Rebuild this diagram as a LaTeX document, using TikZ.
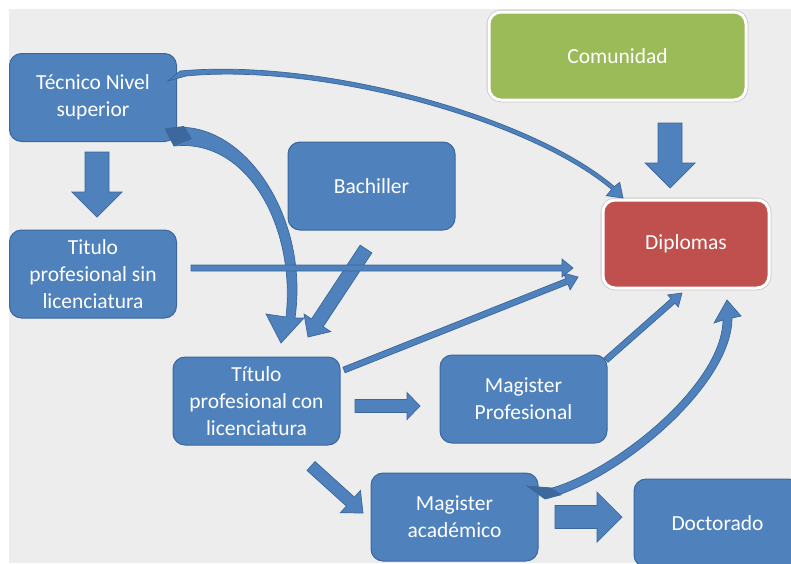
\documentclass[tikz,border=0pt]{standalone}
\usepackage{fontspec}
\setmainfont{Carlito}
\usetikzlibrary{calc}
\definecolor{blu}{HTML}{4F81BD}
\definecolor{bdr}{HTML}{3B679A}
\definecolor{dblu}{HTML}{3C689E}
\definecolor{grn}{HTML}{9BBB59}
\definecolor{redb}{HTML}{C0504D}
\definecolor{bg}{HTML}{EDEDED}
\tikzset{
  box/.style={rounded corners=12pt, fill=blu, draw=bdr, line width=1pt, text=white,
    minimum width=167pt, minimum height=88pt, align=center, inner sep=0pt,
    font=\fontsize{21.5}{27}\selectfont},
  wbox/.style={box, draw=white, line width=3pt, preaction={draw=black!22, line width=4.6pt}},
  arr/.style={fill=blu, draw=bdr, line width=0.7pt, line join=miter},
}
\newcommand\blockarr[5]{%
  \coordinate (hb) at ($(#2)!#5pt!(#1)$);
  \filldraw[arr] ($(#1)!#3pt!90:(#2)$) -- ($(hb)!#3pt!90:(#2)$) -- ($(hb)!#4pt!90:(#2)$)
    -- (#2) -- ($(hb)!#4pt!-90:(#2)$) -- ($(hb)!#3pt!-90:(#2)$) -- ($(#1)!#3pt!-90:(#2)$) -- cycle;
}
\begin{document}
\begin{tikzpicture}[x=1pt,y=-1pt]
\clip (0,0) rectangle (791,563);
\fill[white] (0,0) rectangle (791,563);
\fill[bg] (9,9) rectangle (791,563);

% nodes
\node[box] (tec) at (93,97.5) {Técnico Nivel\\superior};
\node[box] (tsin) at (93,274) {Titulo\\profesional sin\\licenciatura};
\node[box] (bach) at (371.5,186) {Bachiller};
\node[wbox, fill=grn, minimum width=257pt] (com) at (617.5,56) {Comunidad};
\node[wbox, fill=redb, minimum width=166pt] (dip) at (686,244) {Diplomas};
\node[box] (tcon) at (256.5,401) {Título\\profesional con\\licenciatura};
\node[box] (mprof) at (523.5,399) {Magister\\Profesional};
\node[box] (macad) at (454.5,517) {Magister\\académico};
\node[box] (doc) at (717.5,523) {Doctorado};

% straight block arrows (named end points)
\coordinate (a1s) at (97,152);  \coordinate (a1e) at (97,217);
\coordinate (a2s) at (670,123); \coordinate (a2e) at (670,188);
\coordinate (a3s) at (191,268); \coordinate (a3e) at (573,268);
\coordinate (a4s) at (344,370); \coordinate (a4e) at (578,277);
\coordinate (a5s) at (366,249); \coordinate (a5e) at (308,337);
\coordinate (a6s) at (355,406); \coordinate (a6e) at (420,406);
\coordinate (a7s) at (606,360); \coordinate (a7e) at (682,293);
\coordinate (a8s) at (311,466); \coordinate (a8e) at (363,513);
\coordinate (a9s) at (555,517); \coordinate (a9e) at (622,517);

\blockarr{a1s}{a1e}{12}{25}{25}
\blockarr{a2s}{a2e}{12}{25}{25}
\blockarr{a4s}{a4e}{3}{9}{12}
\blockarr{a5s}{a5e}{7}{16}{17}
\blockarr{a6s}{a6e}{6.5}{13.5}{13}
\blockarr{a7s}{a7e}{3}{8}{12}
\blockarr{a8s}{a8e}{6}{15}{17}
\blockarr{a9s}{a9e}{11.5}{25}{25}

% curved arrow: Tecnico -> Titulo con licenciatura
\filldraw[arr] (165,129) .. controls (238,113) and (310,212) .. (295,318)
  -- (304,318) -- (281,343) -- (266,314) -- (286,317)
  .. controls (296,228) and (248,138) .. (174,146) -- cycle;
\fill[dblu] (165,129) -- (184,126) -- (192,139) -- (174,146) -- cycle;

\blockarr{a3s}{a3e}{3}{9}{11}

% curved thin arrow: Tecnico -> Diplomas
\filldraw[arr] (168,81) -- (180,71) .. controls (320,58) and (530,115) .. (614.4,186.6)
  -- (619.7,182.3) -- (623,198) -- (606.3,195.7) -- (611.6,189.4)
  .. controls (528,119) and (320,63) .. (186,76) -- cycle;

% curved arrow: Magister academico -> Diplomas
\filldraw[arr] (545,499) .. controls (620,480) and (732,385) .. (732,318)
  -- (741,316) -- (727,300) -- (714,323) -- (723,320)
  .. controls (722,385) and (615,470) .. (552,488) -- (527,486) -- cycle;
\fill[dblu] (527,486) -- (552,488) -- (562,495) -- (545,499) -- cycle;
\end{tikzpicture}
\end{document}
